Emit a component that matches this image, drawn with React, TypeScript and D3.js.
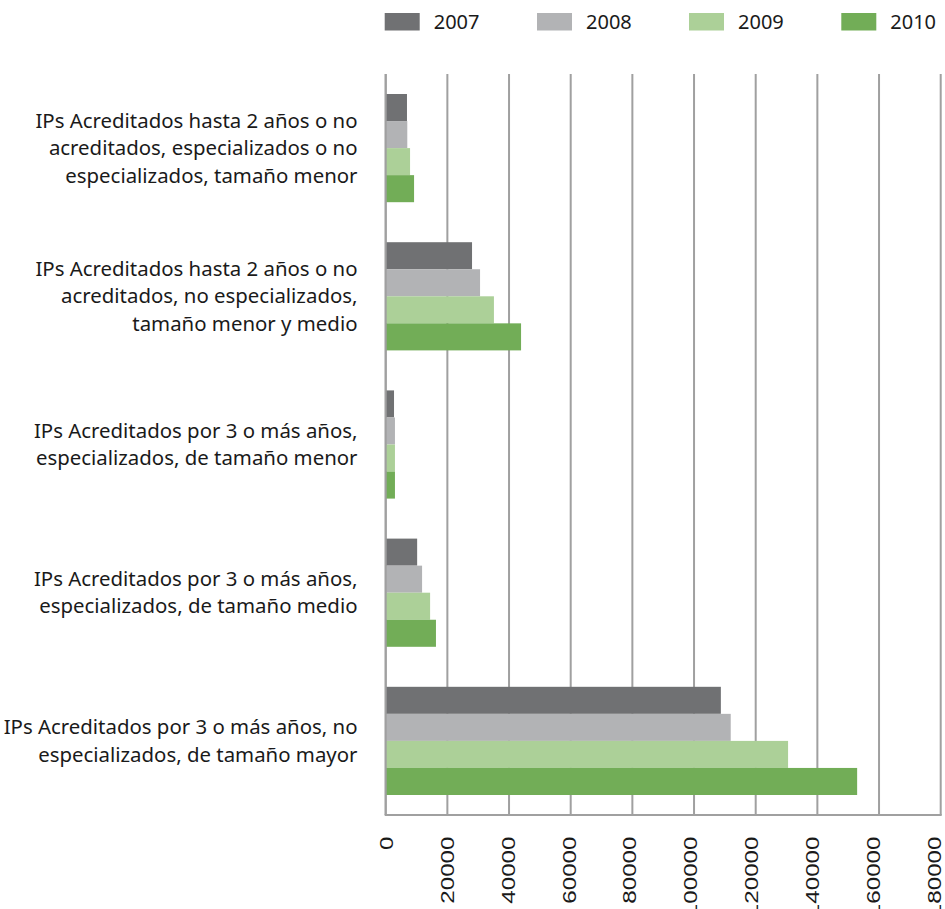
import React from "react";
import * as d3 from "d3";

const categories = [
  ["IPs Acreditados hasta 2 años o no", "acreditados, especializados o no", "especializados, tamaño menor"],
  ["IPs Acreditados hasta 2 años o no", "acreditados, no especializados,", "tamaño menor y medio"],
  ["IPs Acreditados por 3 o más años,", "especializados, de tamaño menor"],
  ["IPs Acreditados por 3 o más años,", "especializados, de tamaño medio"],
  ["IPs Acreditados por 3 o más años, no", "especializados, de tamaño mayor"],
];
const years = ["2007", "2008", "2009", "2010"];
const v2007 = [6900, 28000, 2700, 10200, 108700];
const v2008 = [7000, 30600, 3000, 11800, 111900];
const v2009 = [7900, 35100, 3000, 14400, 130500];
const v2010 = [9200, 43900, 3000, 16300, 152900];
const series = [v2007, v2008, v2009, v2010];
const colors = ["#707173", "#b2b3b5", "#acd098", "#72ad57"];
const ticks = [0, 20000, 40000, 60000, 80000, 100000, 120000, 140000, 160000, 180000];

const W = 945;
const H = 909;
const FONT = "'Noto Sans', sans-serif";

export default function App() {
  const x = d3.scaleLinear().domain([0, 180000]).range([385.7, 940.7]);
  const xLabel = d3.scaleLinear().domain([0, 180000]).range([386, 934.5]);
  const catIdx = categories.map((_, i) => String(i));
  const y = d3.scaleBand().domain(catIdx).range([74, 815]).paddingInner(0.27).paddingOuter(0.135);
  const yi = d3.scaleBand().domain(years).range([0, y.bandwidth()]);
  const legendX = [384.7, 537, 689, 841.3];

  return (
    <svg width={W} height={H} style={{ position: "absolute", left: 0, top: 0 }}>
      <rect width={W} height={H} fill="#fff" />
      {/* legend */}
      {years.map((yr, i) => (
        <g key={yr}>
          <rect x={legendX[i]} y={13} width={35} height={17.5} fill={colors[i]} />
          <text x={legendX[i] + 49} y={29} fontFamily={FONT} fontSize={20} fill="#1a1a1a">
            {yr}
          </text>
        </g>
      ))}
      {/* grid */}
      {ticks.map((t) => (
        <line key={t} x1={x(t)} x2={x(t)} y1={74} y2={815} stroke="#a0a0a0" strokeWidth={2} />
      ))}
      {/* bars */}
      {catIdx.map((c, ci) => (
        <g key={c}>
          {years.map((yr, si) => (
            <rect
              key={yr}
              x={x(0)}
              y={(y(c) as number) + (yi(yr) as number)}
              width={x(series[si][ci]) - x(0)}
              height={yi.bandwidth()}
              fill={colors[si]}
            />
          ))}
        </g>
      ))}
      {/* axes lines */}
      <line x1={x(0)} x2={x(0)} y1={74} y2={815} stroke="#a0a0a0" strokeWidth={2} />
      <line x1={x(0) - 1} x2={x(180000) + 1} y1={815} y2={815} stroke="#a0a0a0" strokeWidth={2} />
      {/* tick labels */}
      {ticks.map((t) => (
        <text
          key={t}
          transform={`translate(${xLabel(t) + 6.7},${836.5}) rotate(-90) scale(1.3,1)`}
          textAnchor="end"
          fontFamily="'Liberation Sans', Arial, sans-serif"
          fontSize={18.6}
          fill="#1a1a1a"
        >
          {t}
        </text>
      ))}
      {/* category labels */}
      {categories.map((lines, ci) => {
        const cy = (y(String(ci)) as number) + y.bandwidth() / 2;
        const lh = 27.5;
        const start = cy - ((lines.length - 1) * lh) / 2;
        return (
          <text key={ci} fontFamily={FONT} fontSize={20.4} fill="#1a1a1a" textAnchor="end">
            {lines.map((l, li) => (
              <tspan key={li} x={357.5} y={start + li * lh + 7}>
                {l}
              </tspan>
            ))}
          </text>
        );
      })}
    </svg>
  );
}
